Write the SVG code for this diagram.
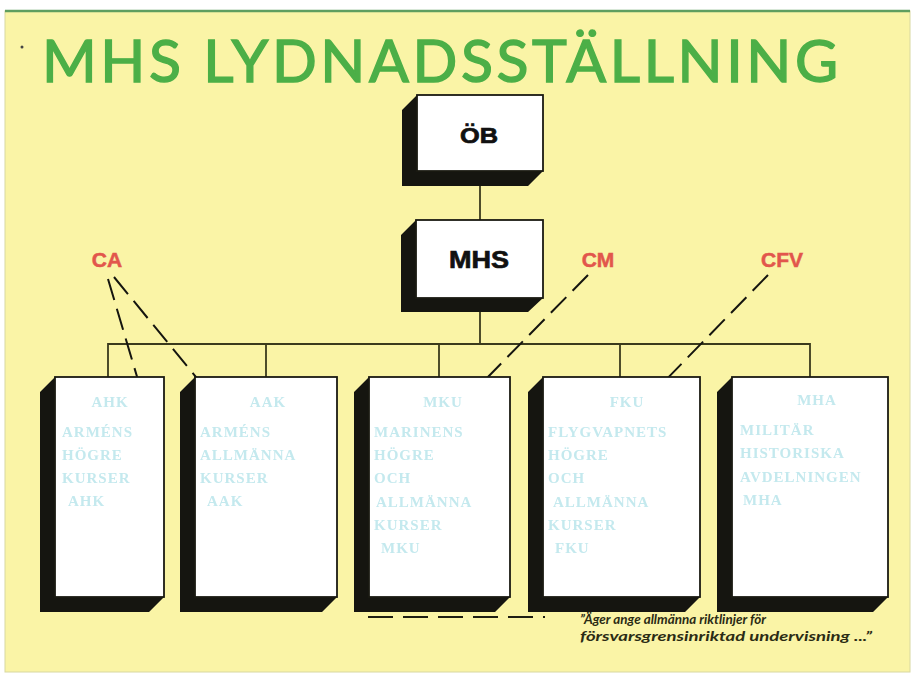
<svg xmlns="http://www.w3.org/2000/svg" width="913" height="677" viewBox="0 0 913 677">
<defs>
<filter id="soft" x="-5%" y="-20%" width="110%" height="140%"><feGaussianBlur stdDeviation="0.7"/></filter>
</defs>
<style>
.shadow{fill:#151510}
.front{fill:#ffffff;stroke:#1a1a12;stroke-width:1.8}
.lbl{font-family:"Liberation Sans",Arial,sans-serif;font-weight:bold;fill:#111;text-anchor:middle;stroke:#111;stroke-width:0.7}
.chief{font-family:"Liberation Sans",Arial,sans-serif;font-weight:bold;font-size:21px;fill:#e2564c;text-anchor:middle;stroke:#e2564c;stroke-width:0.5}
.conn{stroke:#3a3a1c;stroke-width:1.8;fill:none}
.dash{stroke:#15150f;stroke-width:2;fill:none;stroke-dasharray:22 9}
.faint{font-family:"Liberation Serif","Times New Roman",serif;font-weight:bold;font-size:15px;fill:#c4e9ee;letter-spacing:1px;filter:url(#soft)}
.faintc{text-anchor:middle}
.legend{font-family:Lato,"Liberation Sans",Arial,sans-serif;font-weight:bold;font-style:italic;font-size:14px;fill:#2b2b14}
</style>
<rect x="0" y="0" width="913" height="677" fill="#ffffff"/>
<rect x="5" y="11" width="905" height="661" fill="#faf4a6" stroke="#d8d8a0" stroke-width="1"/>
<line x1="5" y1="11" x2="910" y2="11" stroke="#5f9e5f" stroke-width="2.5"/>
<circle cx="22" cy="47" r="1.5" fill="#444"/>
<text x="42" y="82" font-family="Lato,'Open Sans',sans-serif" font-size="59" font-weight="normal" fill="#4caf47" stroke="#4caf47" stroke-width="1.4" textLength="796" lengthAdjust="spacing">MHS LYDNADSSTÄLLNING</text>

<g id="connectors">
<line class="conn" x1="480" y1="186" x2="480" y2="220"/>
<line class="conn" x1="480" y1="312" x2="480" y2="344"/>
<polyline class="conn" points="108,377 108,344 810,344 810,377"/>
<line class="conn" x1="266" y1="344" x2="266" y2="377"/>
<line class="conn" x1="439" y1="344" x2="439" y2="377"/>
<line class="conn" x1="620" y1="344" x2="620" y2="377"/>
<line class="dash" x1="108" y1="279" x2="138" y2="380"/>
<line class="dash" x1="114" y1="277" x2="200" y2="382"/>
<line class="dash" x1="588" y1="275" x2="482" y2="383"/>
<line class="dash" x1="768" y1="275" x2="657" y2="389"/>
</g>

<g id="node-OB">
<polygon class="shadow" points="417,95 402,110 402,186 528,186 543,171 417,171"/>
<rect class="front" x="417" y="95" width="126" height="76"/>
<text class="lbl" x="479" y="143" font-size="22" textLength="38" lengthAdjust="spacingAndGlyphs">ÖB</text>
</g>

<g id="node-MHS">
<polygon class="shadow" points="416,220 401,235 401,312 528,312 543,298 416,298"/>
<rect class="front" x="416" y="220" width="127" height="78"/>
<text class="lbl" x="479" y="268" font-size="24" textLength="60" lengthAdjust="spacingAndGlyphs">MHS</text>
</g>

<g id="label-CA"><text class="chief" x="107" y="267">CA</text></g>
<g id="label-CM"><text class="chief" x="598" y="267">CM</text></g>
<g id="label-CFV"><text class="chief" x="782" y="267">CFV</text></g>

<g id="node-AHK">
<polygon class="shadow" points="55,377 40,392 40,612 149,612 164,597 55,597"/>
<rect class="front" x="55" y="377" width="109" height="220"/>
<text class="faint faintc" x="110" y="407">AHK</text>
<text class="faint" x="62" y="437">ARMÉNS</text>
<text class="faint" x="62" y="460">HÖGRE</text>
<text class="faint" x="62" y="483">KURSER</text>
<text class="faint" x="68" y="506">AHK</text>
</g>

<g id="node-AAK">
<polygon class="shadow" points="195,377 180,392 180,612 322,612 337,597 195,597"/>
<rect class="front" x="195" y="377" width="142" height="220"/>
<text class="faint faintc" x="268" y="407">AAK</text>
<text class="faint" x="200" y="437">ARMÉNS</text>
<text class="faint" x="200" y="460">ALLMÄNNA</text>
<text class="faint" x="200" y="483">KURSER</text>
<text class="faint" x="207" y="506">AAK</text>
</g>

<g id="node-MKU">
<polygon class="shadow" points="369,377 354,392 354,612 495,612 510,597 369,597"/>
<rect class="front" x="369" y="377" width="141" height="220"/>
<text class="faint faintc" x="443" y="407">MKU</text>
<text class="faint" x="374" y="437">MARINENS</text>
<text class="faint" x="374" y="460">HÖGRE</text>
<text class="faint" x="374" y="483">OCH</text>
<text class="faint" x="376" y="507">ALLMÄNNA</text>
<text class="faint" x="374" y="530">KURSER</text>
<text class="faint" x="381" y="553">MKU</text>
</g>

<g id="node-FKU">
<polygon class="shadow" points="543,377 528,392 528,612 685,612 700,597 543,597"/>
<rect class="front" x="543" y="377" width="157" height="220"/>
<text class="faint faintc" x="627" y="407">FKU</text>
<text class="faint" x="548" y="437">FLYGVAPNETS</text>
<text class="faint" x="548" y="460">HÖGRE</text>
<text class="faint" x="548" y="483">OCH</text>
<text class="faint" x="553" y="507">ALLMÄNNA</text>
<text class="faint" x="548" y="530">KURSER</text>
<text class="faint" x="555" y="553">FKU</text>
</g>

<g id="node-MHA">
<polygon class="shadow" points="732,377 717,392 717,612 873,612 888,597 732,597"/>
<rect class="front" x="732" y="377" width="156" height="220"/>
<text class="faint faintc" x="817" y="405">MHA</text>
<text class="faint" x="740" y="435">MILITÄR</text>
<text class="faint" x="740" y="458">HISTORISKA</text>
<text class="faint" x="740" y="482">AVDELNINGEN</text>
<text class="faint" x="743" y="505">MHA</text>
</g>

<g id="legend">
<line x1="368" y1="617" x2="545" y2="617" stroke="#1e1e12" stroke-width="2" stroke-dasharray="25 10"/>
<text class="legend" x="580" y="624" textLength="186" lengthAdjust="spacingAndGlyphs">”Äger ange allmänna riktlinjer för</text>
<text class="legend" x="580" y="641" textLength="292" lengthAdjust="spacingAndGlyphs">försvarsgrensinriktad undervisning ...”</text>
</g>
</svg>
